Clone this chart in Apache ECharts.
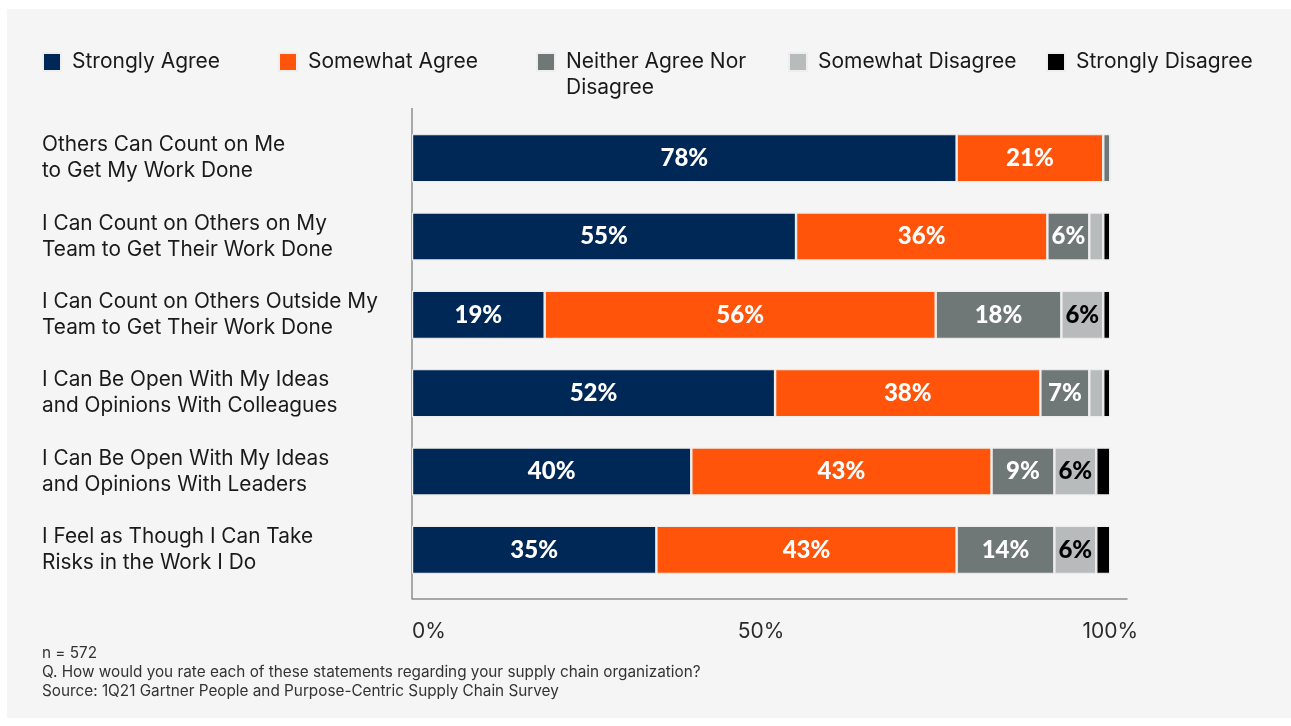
<!DOCTYPE html>
<html>
<head>
<meta charset="utf-8">
<script src="https://cdn.jsdelivr.net/npm/echarts@6/dist/echarts.min.js"></script>
<style>
  html, body { margin: 0; padding: 0; background: #ffffff; }
  #panel { position: absolute; left: 7px; top: 9px; width: 1284px; height: 709px; background: #f5f5f5; }
  #chart { position: absolute; left: 0; top: 0; width: 1291px; height: 726px; }
</style>
</head>
<body>
<div id="panel"></div>
<div id="chart"></div>
<script>
// ---- data ----
const categories = [
  'Others Can Count on Me\nto Get My Work Done',
  'I Can Count on Others on My\nTeam to Get Their Work Done',
  'I Can Count on Others Outside My\nTeam to Get Their Work Done',
  'I Can Be Open With My Ideas\nand Opinions With Colleagues',
  'I Can Be Open With My Ideas\nand Opinions With Leaders',
  'I Feel as Though I Can Take\nRisks in the Work I Do'
];
const seriesNames = ['Strongly Agree', 'Somewhat Agree', 'Neither Agree Nor Disagree', 'Somewhat Disagree', 'Strongly Disagree'];
const stronglyAgree    = [78, 55, 19, 52, 40, 35];
const somewhatAgree    = [21, 36, 56, 38, 43, 43];
const neitherAgree     = [1, 6, 18, 7, 9, 14];
const somewhatDisagree = [0, 2, 6, 2, 6, 6];
const stronglyDisagree = [0, 1, 1, 1, 2, 2];
const xTickValues = [0, 50, 100];
const footnotes = [
  'n = 572',
  'Q. How would you rate each of these statements regarding your supply chain organization?',
  'Source: 1Q21 Gartner People and Purpose-Centric Supply Chain Survey'
];

// ---- styling ----
const colors = ['#002856', '#ff540a', '#6f7777', '#b7bbbb', '#000000'];
const labelColors = ['#ffffff', '#ffffff', '#ffffff', '#000000', '#ffffff'];
const allValues = [stronglyAgree, somewhatAgree, neitherAgree, somewhatDisagree, stronglyDisagree];
const FONT = 'Inter, "Noto Sans", sans-serif';

const chart = echarts.init(document.getElementById('chart'), null, { renderer: 'canvas' });

const series = seriesNames.map((name, i) => ({
  name: name,
  type: 'bar',
  stack: 'total',
  barWidth: 48,
  data: allValues[i],
  itemStyle: { color: colors[i], borderColor: '#eeeeee', borderWidth: 1.2 },
  label: {
    show: true,
    position: 'inside',
    color: labelColors[i],
    fontFamily: 'Lato, Inter, sans-serif',
    fontWeight: 900,
    fontSize: 24,
    formatter: p => (p.value >= 5 ? p.value + '%' : '')
  },
  emphasis: { disabled: true }
}));

const legendLefts = [42, 278, 536, 788, 1046];
const legends = seriesNames.map((name, i) => {
  const multi = name === 'Neither Agree Nor Disagree';
  return {
    data: [name],
    left: legendLefts[i],
    top: 49,
    padding: 0,
    itemWidth: 18,
    itemHeight: 18,
    icon: 'rect',
    selectedMode: false,
    formatter: multi ? 'Neither Agree Nor' : name,
    textStyle: {
      fontFamily: FONT,
      fontSize: 21,
      lineHeight: 26,
      color: '#1a1a1a',
      padding: [0, 0, 0, 6]
    }
  };
});

const option = {
  backgroundColor: 'transparent',
  animation: false,
  legend: legends,
  grid: { left: 412, right: 164, top: 119, bottom: 137, containLabel: false },
  xAxis: {
    type: 'value',
    min: 0,
    max: 102.4,
    interval: 50,
    offset: 10,
    axisLine: { show: true, lineStyle: { color: '#8a8f8f', width: 1.5 } },
    axisTick: { show: false },
    splitLine: { show: false },
    axisLabel: {
      margin: 22,
      fontFamily: FONT,
      fontSize: 21,
      color: '#2b2b2b',
      alignMinLabel: 'left',
      formatter: v => (xTickValues.indexOf(v) >= 0 ? v + '%' : '')
    }
  },
  yAxis: {
    type: 'category',
    inverse: true,
    data: categories,
    axisLine: { show: false },
    axisTick: { show: false },
    axisLabel: {
      align: 'left',
      margin: 370,
      fontFamily: FONT,
      fontSize: 20.8,
      lineHeight: 26,
      color: '#1a1a1a'
    }
  },
  graphic: [
    {
      type: 'line',
      shape: { x1: 412, y1: 108, x2: 412, y2: 599 },
      style: { stroke: '#8a8f8f', lineWidth: 1.5 },
      silent: true
    },
    {
      type: 'text',
      left: 566,
      top: 77,
      style: { text: 'Disagree', fontFamily: FONT, fontSize: 21, fill: '#1a1a1a' },
      silent: true
    },
    ...footnotes.map((t, i) => ({
      type: 'text',
      left: 42,
      top: 646 + i * 19,
      style: { text: t, fontFamily: FONT, fontSize: 15.3, fill: '#333333' },
      silent: true
    }))
  ],
  series: series
};

chart.setOption(option);
</script>
</body>
</html>
